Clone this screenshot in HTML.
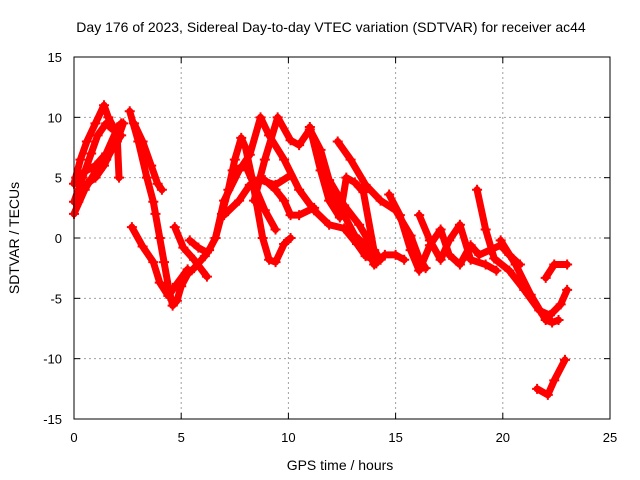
<!DOCTYPE html>
<html><head><meta charset="utf-8"><style>
body{margin:0;background:#fff;}
svg{display:block;font-family:"Liberation Sans",sans-serif;}
</style></head><body>
<svg id="chart" width="640" height="480">
<text x="331" y="32" font-size="14" text-anchor="middle">Day 176 of 2023, Sidereal Day-to-day VTEC variation (SDTVAR) for receiver ac44</text>
<text x="340" y="470" font-size="14" text-anchor="middle">GPS time / hours</text>
<text transform="translate(19,238) rotate(-90)" font-size="14" text-anchor="middle">SDTVAR / TECUs</text>
<g id="grid"></g><g id="ticks"></g><g id="marks"></g>
<rect x="74" y="57" width="536" height="362" fill="none" stroke="#000" stroke-width="1"/>
</svg>
<script>
const xTicks=[0,5,10,15,20,25];
const yTicks=[-15,-10,-5,0,5,10,15];
const track1=[[0,2],[0.5,4],[1,5.5],[1.5,6.5],[2,8],[2.3,9.5]];
const track2=[[0,4.5],[0.3,6.5],[0.6,8],[1,9.5],[1.4,11],[1.6,10],[1.9,9],[2.2,9.5]];
const track3=[[0.1,5],[0.5,5.5],[1,6],[1.5,7],[2,9],[2.1,5]];
const track3b=[[0,3],[0.4,5],[0.8,7],[1.1,8.5],[1.5,9.5],[1.8,9]];
const track3c=[[0.2,3],[0.6,4.5],[1,5],[1.4,6],[1.8,7.5],[2.2,8.5]];
const track4=[[2.6,10.5],[3,8],[3.4,5],[3.7,3],[3.8,2],[4,0],[4.2,-2],[4.4,-4],[4.6,-5.6],[4.8,-5.2],[5,-4],[5.3,-3],[5.6,-2.5],[6.1,-1.5],[6.3,-1],[6.6,0],[6.9,2],[7.2,4],[7.5,6.5],[7.8,8.3],[8,7.5],[8.3,5],[8.5,3],[8.8,0],[9.1,-1.8],[9.4,-2],[9.8,-0.5],[10.1,0]];
const track5=[[2.8,9.5],[3.2,8],[3.6,6],[3.9,4.5],[4.1,4]];
const track6=[[2.7,0.9],[3.2,-0.7],[3.7,-2],[4,-3.7],[4.4,-4.8],[4.8,-3.8],[5.3,-2.6]];
const track7=[[4.7,0.9],[5.1,-0.8],[5.6,-1.8],[6.2,-3.2]];
const track8=[[5.4,-0.2],[5.8,-0.8],[6.2,-1.2]];
const track9=[[6.6,0],[7,3.1],[7.7,5.6],[8.2,6.9],[8.7,10],[9.1,8.5],[9.8,6.5],[10.5,4],[11.2,2.3],[11.9,1.1],[12.6,0.8],[13.2,-0.5],[13.6,-1.5],[14,-1.8]];
const track10=[[8.4,3.1],[8.9,6.5],[9.5,10],[10.1,8.1],[10.5,7.7],[11,9],[11.5,7.3],[11.9,4.8],[12.6,2.7],[13.3,1.1],[14,-1],[14.3,-1.8]];
const track11=[[12.3,8],[12.9,6.5],[13.6,4.4],[14.3,3.1],[15,2.3],[15.7,0.2],[16.1,-1.7],[16.4,-2.5]];
const track12=[[14.7,3.6],[15.2,1.9],[15.7,-1],[16.1,-2.7],[16.6,-0.6],[17.1,0.7],[17.5,-1.4],[18,-2.2],[18.5,-0.6],[18.9,-1.4],[19.4,-1],[19.9,-0.6],[20.3,-1.4],[20.8,-2.2]];
const track13=[[16.1,1.9],[16.6,-0.2],[17.1,-1.8],[17.5,-0.2],[18,1.1],[18.5,-1.8],[19.2,-2.2],[19.7,-2.7]];
const track14=[[11.8,4.8],[12.2,3.1],[12.6,1.9],[13.1,0.2],[13.6,-0.6],[14,-2.2],[14.5,-1.4],[15,-1.4],[15.4,-1.8]];
const track15=[[11,9.2],[11.5,5.6],[11.9,3.1],[12.4,1.7],[12.7,5],[13.1,4.6],[13.5,3.8],[14.1,-2.1]];
const track16=[[8.9,4.8],[9.4,4],[9.8,3.1],[10.1,1.9],[10.5,1.9],[11.2,2.5]];
const track17=[[7,1.9],[7.7,3.1],[8.2,4.4],[8.7,4.8],[9.4,4.4],[10.1,5.2]];
const track18=[[7.4,5.6],[8,6],[8.4,4.4],[8.9,2.3],[9.4,0.7]];
const track19=[[18.8,4],[19.2,0.7],[19.6,-1.7],[20.3,-2.7],[21,-4.3],[21.7,-6],[22.2,-6.4],[22.7,-5.5],[23,-4.3]];
const track20=[[19.9,-0.2],[20.6,-2.2],[21.3,-4.7],[22,-6.8],[22.3,-7],[22.6,-6.8]];
const track21=[[22,-3.3],[22.4,-2.2],[23,-2.2]];
const track22=[[21.6,-12.5],[22.1,-13],[22.4,-11.8],[22.9,-10.1]];
const tracks=[track1,track2,track3,track3b,track3c,track4,track5,track6,track7,track8,track9,track10,track11,track12,track13,track14,track15,track16,track17,track18,track19,track20,track21,track22];
const X0=74,X1=610,Y0=419,Y1=57;
const sx=v=>X0+(v-0)/(25-0)*(X1-X0);
const sy=v=>Y0-(v+15)/30*(Y0-Y1);
const NS='http://www.w3.org/2000/svg';
const grid=document.getElementById('grid'),ticks=document.getElementById('ticks'),marks=document.getElementById('marks');
function mk(t,a,p){const e=document.createElementNS(NS,t);for(const k in a)e.setAttribute(k,a[k]);p.appendChild(e);return e;}
xTicks.forEach(v=>{const x=sx(v);
 if(v>0&&v<25){const g=mk('line',{x1:x,x2:x,y1:Y1,y2:Y0,stroke:'#a0a0a0','stroke-dasharray':'2,3'},grid);
 
 }
 const t=mk('text',{x:x,y:Y0+23,'font-size':13,'text-anchor':'middle'},ticks);t.textContent=v;
 
 
 mk('line',{x1:x,x2:x,y1:Y0,y2:Y0-6,stroke:'#000'},ticks);mk('line',{x1:x,x2:x,y1:Y1,y2:Y1+6,stroke:'#000'},ticks);});
yTicks.forEach(v=>{const y=sy(v);
 if(v>-15&&v<15){const g=mk('line',{x1:X0,x2:X1,y1:y,y2:y,stroke:'#a0a0a0','stroke-dasharray':'2,3'},grid);
 
 }
 const t=mk('text',{x:X0-12,y:y+5,'font-size':13,'text-anchor':'end'},ticks);t.textContent=v;
 
 
 mk('line',{x1:X0,x2:X0+6,y1:y,y2:y,stroke:'#000'},ticks);mk('line',{x1:X1,x2:X1-6,y1:y,y2:y,stroke:'#000'},ticks);});
tracks.forEach((tr,i)=>{
 const pts=tr.map(p=>sx(p[0])+','+sy(p[1])).join(' ');
 const pl=mk('polyline',{points:pts,fill:'none',stroke:'#ff0000','stroke-width':7,'stroke-linejoin':'round','stroke-linecap':'round'},marks);
 
 
 tr.forEach(p=>{const x=sx(p[0]),y=sy(p[1]);
  const m=mk('path',{d:`M${x-5},${y}h10M${x},${y-5}v10`,stroke:'#ff0000','stroke-width':2},marks);
  
  });
});
</script>
</body></html>
